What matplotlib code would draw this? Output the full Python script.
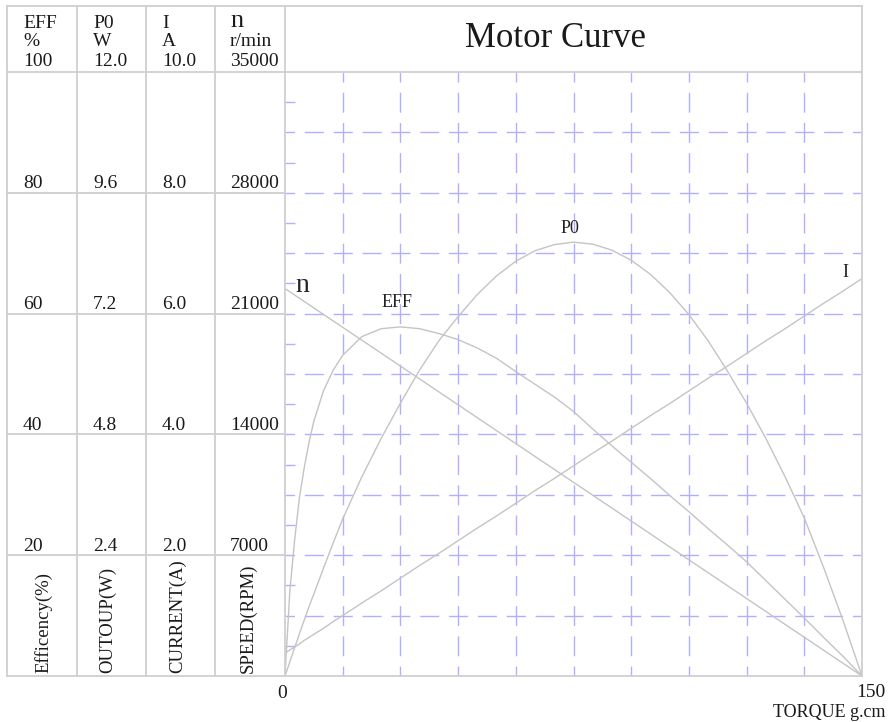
import matplotlib
matplotlib.use("Agg")
import matplotlib.pyplot as plt

plt.rcParams['font.family'] = ['Liberation Serif', 'DejaVu Serif']
plt.rcParams['lines.scale_dashes'] = False

# ---------------- data ----------------
torque = [0, 1.25, 2.5, 3.75, 5, 6.25, 7.5, 10, 12.5, 15, 20, 25, 30, 35, 40, 45,
          50, 55, 60, 65, 70, 75, 80, 85, 90, 95, 100, 105, 110, 115, 120, 125,
          130, 135, 140, 145, 150]
eff = [0, 14.0, 22.5, 29.5, 34.5, 38.7, 42.2, 47.2, 50.6, 53.1, 56.2, 57.5, 57.8,
       57.5, 56.7, 55.7, 54.3, 52.6, 50.4, 48.3, 46.2, 43.8, 40.9, 38.1, 35.4,
       32.7, 29.9, 27.2, 24.4, 21.7, 18.9, 15.8, 12.7, 9.6, 6.4, 3.3, 0]
po = [0, 0.28, 0.56, 0.84, 1.11, 1.38, 1.63, 2.14, 2.64, 3.12, 3.96, 4.72, 5.42,
      6.08, 6.66, 7.14, 7.58, 7.95, 8.24, 8.45, 8.57, 8.62, 8.58, 8.46, 8.26,
      7.98, 7.62, 7.18, 6.66, 6.06, 5.42, 4.72, 3.96, 3.14, 2.16, 1.12, 0]
current = [0.38, 0.43, 0.48, 0.53, 0.59, 0.64, 0.69, 0.79, 0.90, 1.00, 1.21, 1.41,
           1.62, 1.83, 2.03, 2.24, 2.45, 2.65, 2.86, 3.07, 3.27, 3.48, 3.69, 3.89,
           4.10, 4.31, 4.51, 4.72, 4.93, 5.13, 5.34, 5.55, 5.75, 5.96, 6.17, 6.37,
           6.58]
speed = [22450, 22263, 22076, 21889, 21702, 21515, 21327, 20953, 20579, 20205,
         19457, 18708, 17960, 17212, 16463, 15715, 14967, 14218, 13470, 12722,
         11973, 11225, 10477, 9728, 8980, 8232, 7483, 6735, 5987, 5238, 4490,
         3742, 2993, 2245, 1497, 748, 0]

eff_max, po_max, cur_max, speed_max = 100, 12, 10, 35000
x_max = 150

header_names = ['EFF', 'P0', 'I', 'n']
header_units = ['%', 'W', 'A', 'r/min']
header_tops = ['100', '12.0', '10.0', '35000']
row_levels = [80, 60, 40, 20]
eff_labels = ['80', '60', '40', '20']
po_labels = ['9.6', '7.2', '4.8', '2.4']
cur_labels = ['8.0', '6.0', '4.0', '2.0']
speed_labels = ['28000', '21000', '14000', '7000']
axis_names = ['Efficency(%)', 'OUTOUP(W)', 'CURRENT(A)', 'SPEED(RPM)']
title = 'Motor Curve'
xlabel = 'TORQUE g.cm'

# ---------------- layout ----------------
W, H, DPI = 888, 722, 100
PX = 72.0 / DPI                   # points per pixel
L, R, T, B = 285, 862, 72, 676    # plot area (pixels)
TOP, LEFT = 6, 7
col_edges = [LEFT, 77, 146, 215, L]
grid_c = '#b0b0ff'
line_c = '#c4c4c4'
table_c = '#cfcfcf'

fig = plt.figure(figsize=(W / DPI, H / DPI), dpi=DPI)
fig.patch.set_facecolor('white')

ax = fig.add_axes([L / W, (H - B) / H, (R - L) / W, (B - T) / H])
ax.set_xlim(0, x_max)
ax.set_ylim(0, eff_max)
for s in ax.spines.values():
    s.set_visible(False)
ax.set_xticks([])
ax.set_yticks([5 + 10 * i for i in range(10)])
ax.tick_params(axis='y', direction='in', length=10 * PX, width=1.4 * PX,
               color=grid_c, labelleft=False, left=True)

# dashed grid (plus-shaped crossings)
hper = (R - L) / 20.0
vper = (B - T) / 20.0
for k in range(1, 10):
    xv = x_max * k / 10
    on = vper * 0.66
    ax.plot([xv, xv], [0, eff_max], color=grid_c, lw=1.4 * PX, solid_capstyle='butt',
            dash_capstyle='butt',
            linestyle=(on / 2 * PX, (on * PX, (vper - on) * PX)), zorder=1)
for k in range(1, 10):
    yv = eff_max * k / 10
    on = hper * 0.66
    ax.plot([0, x_max], [yv, yv], color=grid_c, lw=1.4 * PX, dash_capstyle='butt',
            linestyle=(on / 2 * PX, (on * PX, (hper - on) * PX)), zorder=1)

ax.plot(torque, eff, color=line_c, lw=1.0, zorder=3)
ax_p = ax.twinx(); ax_p.set_ylim(0, po_max); ax_p.axis('off')
ax_p.plot(torque, po, color=line_c, lw=1.0, zorder=3)
ax_i = ax.twinx(); ax_i.set_ylim(0, cur_max); ax_i.axis('off')
ax_i.plot(torque, current, color=line_c, lw=1.0, zorder=3)
ax_n = ax.twinx(); ax_n.set_ylim(0, speed_max); ax_n.axis('off')
ax_n.plot(torque, speed, color=line_c, lw=1.0, zorder=3)

# curve labels (in eff-axis data coords)
ax.text(4.6, 63.5, 'n', fontsize=20, ha='center', va='baseline', color='#222222')
ax.text(29.0, 61.1, 'EFF', fontsize=13, ha='center', va='baseline', color='#222222')
ax.text(74.1, 73.3, 'P0', fontsize=13, ha='center', va='baseline', color='#222222')
ax.text(145.6, 66.1, 'I', fontsize=13, ha='center', va='baseline', color='#222222')

# ---------------- table overlay (pixel coordinates) ----------------
ov = fig.add_axes([0, 0, 1, 1], zorder=5)
ov.set_xlim(0, W)
ov.set_ylim(H, 0)
ov.axis('off')
ov.patch.set_alpha(0)

lw_t = 1.3
ov.plot([LEFT, R], [TOP, TOP], color=table_c, lw=lw_t)
ov.plot([LEFT, R], [T, T], color=table_c, lw=lw_t)
ov.plot([LEFT, R], [B, B], color=table_c, lw=lw_t)
ov.plot([R, R], [TOP, B], color=table_c, lw=lw_t)
for xe in col_edges:
    ov.plot([xe, xe], [TOP, B], color=table_c, lw=lw_t)
row_y = [B - v / eff_max * (B - T) for v in row_levels]
for yy in row_y:
    ov.plot([LEFT, L], [yy, yy], color=table_c, lw=lw_t)

tc = '#1a1a1a'
fs = 14
text_x = [xe + 16 for xe in col_edges[:4]]
text_x[3] = col_edges[3] + 15
for i in range(4):
    if header_names[i] == 'n':
        ov.text(text_x[i], 27, header_names[i], fontsize=19, va='baseline', ha='left', color=tc)
    else:
        ov.text(text_x[i], 28, header_names[i], fontsize=fs, va='baseline', ha='left', color=tc)
    ov.text(text_x[i], 46, header_units[i], fontsize=fs, va='baseline', ha='left', color=tc)
    ov.text(text_x[i], 66.5, header_tops[i], fontsize=fs, va='baseline', ha='left', color=tc)

for j, yy in enumerate(row_y):
    for i, labs in enumerate([eff_labels, po_labels, cur_labels, speed_labels]):
        ov.text(text_x[i], yy - 4.5, labs[j], fontsize=fs, va='baseline', ha='left', color=tc)

name_x = [43, 108, 178, 248]
for i, nm in enumerate(axis_names):
    ov.text(name_x[i], 673, nm, fontsize=13.5, rotation=90, ha='center', va='bottom', color=tc)

ov.text(465, 47, title, fontsize=25, ha='left', va='baseline', color=tc)
ov.text(282, 698, '0', fontsize=fs, ha='center', va='baseline', color=tc)
ov.text(885, 697, '150', fontsize=fs, ha='right', va='baseline', color=tc)
ov.text(885, 717, xlabel, fontsize=13, ha='right', va='baseline', color=tc)

fig.savefig('out.png', dpi=DPI, facecolor='white')
